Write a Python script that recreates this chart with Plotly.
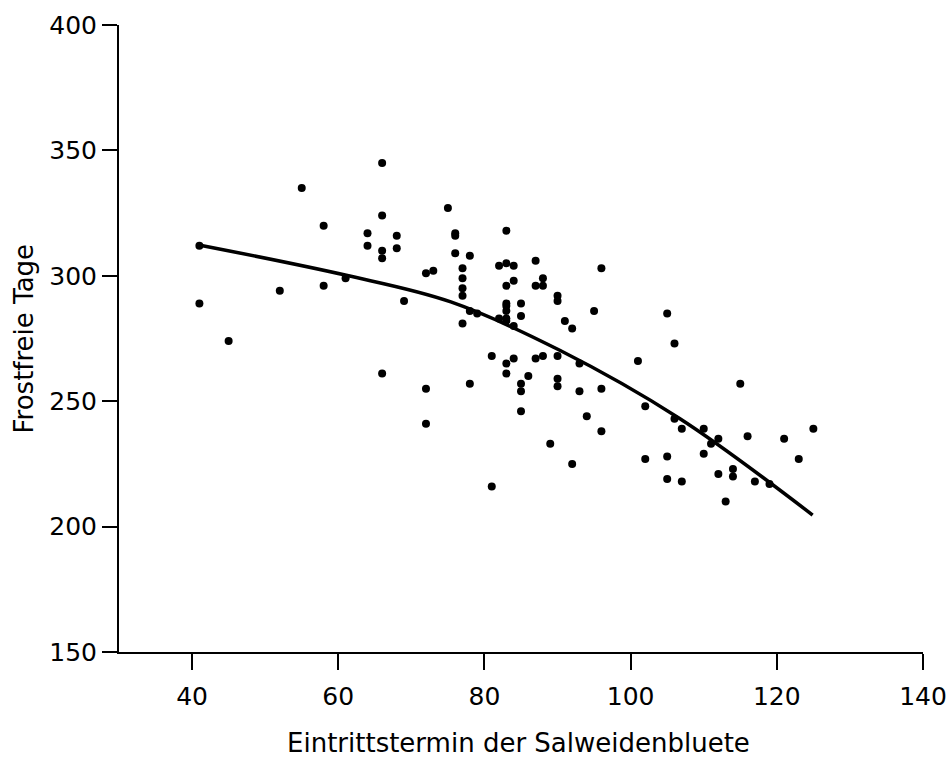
import plotly.graph_objects as go

pts_x = [55, 58, 64, 64, 41, 52, 58, 61, 41, 45,
         66, 66, 66, 66, 68, 68, 75, 76, 76, 76,
         78, 72, 73, 77, 77, 77, 77, 77, 69, 78,
         79, 66, 72, 72, 78, 81, 81, 83, 82, 83,
         84, 84, 83, 83, 83, 83, 85, 85, 82, 83,
         83, 84, 87, 88, 87, 88, 90, 90, 96, 95,
         91, 92, 83, 84, 83, 87, 88, 90, 93, 86,
         85, 85, 90, 90, 93, 96, 85, 94, 96, 89,
         92, 105, 106, 101, 102, 106, 107, 110, 112, 111,
         110, 116, 115, 121, 125, 123, 102, 105, 105, 107,
         112, 114, 114, 117, 119, 113]
pts_y = [335, 320, 317, 312, 312, 294, 296, 299, 289, 274,
         345, 324, 310, 307, 316, 311, 327, 317, 316, 309,
         308, 301, 302, 303, 299, 295, 292, 281, 290, 286,
         285, 261, 255, 241, 257, 216, 268, 318, 304, 305,
         304, 298, 296, 289, 288, 286, 289, 284, 283, 283,
         282, 280, 306, 299, 296, 296, 292, 290, 303, 286,
         282, 279, 265, 267, 261, 267, 268, 268, 265, 260,
         257, 254, 259, 256, 254, 255, 246, 244, 238, 233,
         225, 285, 273, 266, 248, 243, 239, 239, 235, 233,
         229, 236, 257, 235, 239, 227, 227, 228, 219, 218,
         221, 223, 220, 218, 217, 210]

# Fitted curve
curve_x = [41.1, 61.1, 75.4, 90.3, 106.7, 124.9]
curve_y = [312.2, 300.2, 289.6, 270.3, 243.1, 204.6]

x_ticks = [40, 60, 80, 100, 120, 140]
y_ticks = [150, 200, 250, 300, 350, 400]

FONT = "DejaVu Sans"

fig = go.Figure()
fig.add_trace(go.Scatter(x=curve_x, y=curve_y, mode="lines",
                         line=dict(color="black", width=3.5, shape="spline", smoothing=1.0),
                         hoverinfo="skip", showlegend=False))
fig.add_trace(go.Scatter(x=pts_x, y=pts_y, mode="markers",
                         marker=dict(color="black", size=8),
                         showlegend=False))

fig.update_layout(
    width=951, height=760,
    paper_bgcolor="white", plot_bgcolor="white",
    margin=dict(l=119, r=28, t=25, b=108),
    font=dict(family=FONT, color="black"),
    xaxis=dict(range=[30, 140], tickvals=x_ticks, ticktext=[str(v) for v in x_ticks],
               automargin=False, ticklabeloverflow="allow",
               showgrid=False, zeroline=False, showline=True, linecolor="black", linewidth=2,
               ticks="outside", ticklen=16, tickwidth=2, tickcolor="black",
               tickfont=dict(size=25, family=FONT), ticklabelstandoff=5),
    yaxis=dict(range=[150, 400], tickvals=y_ticks, ticktext=[str(v) for v in y_ticks],
               automargin=False, ticklabeloverflow="allow",
               showgrid=False, zeroline=False, showline=True, linecolor="black", linewidth=2,
               ticks="outside", ticklen=15, tickwidth=2, tickcolor="black",
               tickfont=dict(size=25, family=FONT), ticklabelstandoff=0),
    annotations=[
        dict(text="Eintrittstermin der Salweidenbluete", xref="paper", yref="paper",
             x=0.497, y=0, xanchor="center", yanchor="middle", yshift=-91,
             showarrow=False, font=dict(size=26, family=FONT)),
        dict(text="Frostfreie Tage", xref="paper", yref="paper",
             x=0, y=0.5, xanchor="center", yanchor="middle", xshift=-96,
             textangle=-90, showarrow=False, font=dict(size=26, family=FONT)),
    ],
)

fig.write_html("out.html", config={"displayModeBar": False},
               post_script="document.body.style.margin='0';document.body.style.overflow='hidden';")
